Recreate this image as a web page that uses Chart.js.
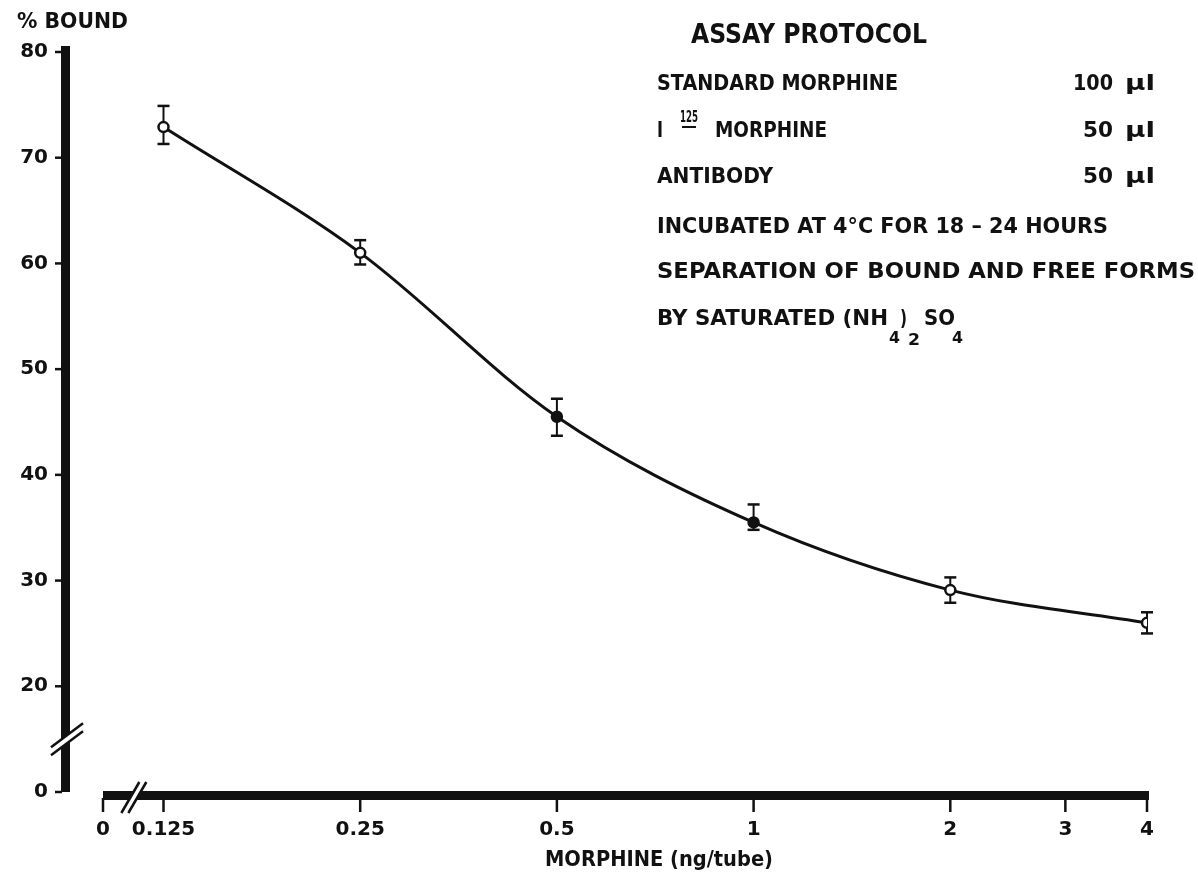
<!DOCTYPE html>
<html>
<head>
<meta charset="utf-8">
<script src="https://cdn.jsdelivr.net/npm/chart.js@4.4.0/dist/chart.umd.min.js"></script>
<style>
    html, body { margin: 0; padding: 0; background: #fff; }
</style>
</head>
<body>
<canvas id="chart" width="1198" height="874"></canvas>
<script>
// morphine standards (ng/tube) and % bound
var doses = [0.125, 0.25, 0.5, 1, 2, 4];
var bound = [72.9, 61.0, 45.5, 35.5, 29.1, 26.0];
var errHigh = [74.9, 62.2, 47.2, 37.2, 30.3, 27.0];
var errLow = [71.3, 59.9, 43.7, 34.8, 27.9, 25.0];
var filled = [false, false, true, true, false, false];

// the "0" on each axis sits past a break, so it is placed at 0.101 / 10
var xTicks = [0.101, 0.125, 0.25, 0.5, 1, 2, 3, 4];
var xTickLabels = ['0', '0.125', '0.25', '0.5', '1', '2', '3', '4'];
var yTicks = [10, 20, 30, 40, 50, 60, 70, 80];
var yTickLabels = ['0', '20', '30', '40', '50', '60', '70', '80'];

var ink = '#111';
var tickFont = { family: '"DejaVu Sans"', size: 20, weight: 'bold' };

function fitText(c, text, x, y, width, size) {
    c.save();
    c.font = 'bold ' + size + 'px "DejaVu Sans"';
    var w = c.measureText(text).width;
    c.translate(x, y);
    c.scale(width / w, 1);
    c.textBaseline = 'alphabetic';
    c.textAlign = 'left';
    c.fillStyle = ink;
    c.fillText(text, 0, 0);
    c.restore();
}

// thick axis bars, tick marks and break marks
var paperAxes = {
    id: 'paperAxes',
    beforeDatasetsDraw: function(chart) {
        var c = chart.ctx, xs = chart.scales.x, ys = chart.scales.y;
        var area = chart.chartArea;
        c.save();
        c.fillStyle = ink;
        c.strokeStyle = ink;

        // y bar
        c.fillRect(61, area.top - 6, 9, area.bottom - area.top + 6);
        c.lineWidth = 2.5;
        yTicks.forEach(function(v) {
            var py = ys.getPixelForValue(v);
            c.beginPath(); c.moveTo(55, py); c.lineTo(62, py); c.stroke();
        });

        // x bar
        c.fillRect(area.left, area.bottom - 1, xs.getPixelForValue(4) - area.left + 2, 9);
        xTicks.forEach(function(v) {
            var px = xs.getPixelForValue(v);
            c.beginPath(); c.moveTo(px, area.bottom + 6); c.lineTo(px, area.bottom + 20); c.stroke();
        });

        // y break
        var cy = ys.getPixelForValue(15), cx = 67;
        c.fillStyle = '#fff';
        c.beginPath();
        c.moveTo(cx - 16, cy + 8); c.lineTo(cx + 16, cy - 16);
        c.lineTo(cx + 16, cy - 8); c.lineTo(cx - 16, cy + 16);
        c.closePath(); c.fill();
        c.lineWidth = 2.5;
        c.beginPath(); c.moveTo(cx - 16, cy + 8); c.lineTo(cx + 16, cy - 16); c.stroke();
        c.beginPath(); c.moveTo(cx - 16, cy + 16); c.lineTo(cx + 16, cy - 8); c.stroke();

        // x break
        var bx = xs.getPixelForValue(0.1124), by = area.bottom + 4;
        c.beginPath();
        c.moveTo(bx - 12, by + 17); c.lineTo(bx + 6, by - 14);
        c.lineTo(bx + 13, by - 14); c.lineTo(bx - 5, by + 17);
        c.closePath(); c.fill();
        c.beginPath(); c.moveTo(bx - 12, by + 17); c.lineTo(bx + 6, by - 14); c.stroke();
        c.beginPath(); c.moveTo(bx - 5, by + 17); c.lineTo(bx + 13, by - 14); c.stroke();

        // error bars (under the markers)
        c.strokeStyle = ink;
        doses.forEach(function(d, i) {
            var px = xs.getPixelForValue(d);
            var top = ys.getPixelForValue(errHigh[i]);
            var bot = ys.getPixelForValue(errLow[i]);
            c.lineWidth = 2;
            c.beginPath(); c.moveTo(px, top); c.lineTo(px, bot); c.stroke();
            c.lineWidth = 2.5;
            c.beginPath(); c.moveTo(px - 6, top); c.lineTo(px + 6, top); c.stroke();
            c.beginPath(); c.moveTo(px - 6, bot); c.lineTo(px + 6, bot); c.stroke();
        });
        c.restore();
    },
    afterDraw: function(chart) {
        var c = chart.ctx;
        // axis titles
        fitText(c, '% BOUND', 17, 28, 111, 22);
        fitText(c, 'MORPHINE (ng/tube)', 545, 866, 228, 22);

        // assay protocol box
        fitText(c, 'ASSAY PROTOCOL', 691, 43, 236, 27);
        fitText(c, 'STANDARD MORPHINE', 657, 90, 241, 22);
        fitText(c, '100', 1073, 90, 40, 22);
        fitText(c, 'μl', 1125, 90, 30, 21);
        fitText(c, 'I', 657, 137, 6, 22);
        fitText(c, '125', 680, 122, 18, 16);
        c.save(); c.fillStyle = ink; c.fillRect(682, 126, 14, 2); c.restore();
        fitText(c, 'MORPHINE', 715, 137, 112, 22);
        fitText(c, '50', 1083, 137, 30, 22);
        fitText(c, 'μl', 1125, 137, 30, 21);
        fitText(c, 'ANTIBODY', 657, 183, 116, 22);
        fitText(c, '50', 1083, 183, 30, 22);
        fitText(c, 'μl', 1125, 183, 30, 21);
        fitText(c, 'INCUBATED AT 4°C FOR 18 – 24 HOURS', 657, 233, 451, 22);
        fitText(c, 'SEPARATION OF BOUND AND FREE FORMS', 657, 278, 538, 22);
        fitText(c, 'BY SATURATED (NH', 657, 325, 231, 22);
        fitText(c, '4', 889, 343, 11, 16);
        fitText(c, ')', 900, 325, 7, 22);
        fitText(c, '2', 908, 345, 12, 16);
        fitText(c, 'SO', 924, 325, 31, 22);
        fitText(c, '4', 952, 343, 11, 16);
    }
};

var ctx = document.getElementById('chart').getContext('2d');
var myChart = new Chart(ctx, {
    type: 'line',
    data: {
        datasets: [{
            data: doses.map(function(d, i) {
                return { x: d, y: bound[i] };
            }),
            borderColor: ink,
            borderWidth: 3,
            cubicInterpolationMode: 'monotone',
            fill: false,
            pointRadius: 5,
            pointBorderWidth: 2.5,
            pointBorderColor: ink,
            pointBackgroundColor: filled.map(function(f) {
                return f ? ink : '#fff';
            })
        }]
    },
    options: {
        responsive: false,
        animation: false,
        layout: {
            padding: { left: 0, top: 52, right: 51, bottom: 0 }
        },
        plugins: {
            legend: { display: false },
            tooltip: { enabled: false }
        },
        scales: {
            x: {
                type: 'logarithmic',
                min: 0.101,
                max: 4,
                grid: { display: false, drawTicks: false },
                border: { display: false },
                afterBuildTicks: function(scale) {
                    scale.ticks = xTicks.map(function(v) { return { value: v }; });
                },
                afterFit: function(scale) {
                    scale.height = 82;
                },
                ticks: {
                    autoSkip: false,
                    maxRotation: 0,
                    padding: 26,
                    color: ink,
                    font: tickFont,
                    callback: function(value, index) {
                        return xTickLabels[index];
                    }
                }
            },
            y: {
                type: 'linear',
                min: 10,
                max: 80,
                grid: { display: false, drawTicks: false },
                border: { display: false },
                afterBuildTicks: function(scale) {
                    scale.ticks = yTicks.map(function(v) { return { value: v }; });
                },
                afterFit: function(scale) {
                    scale.width = 103;
                    // the big label padding should not push the plot down
                    scale.paddingTop = 12;
                    scale.paddingBottom = 12;
                },
                ticks: {
                    padding: 55,
                    color: ink,
                    font: tickFont,
                    callback: function(value, index) {
                        return yTickLabels[index];
                    }
                }
            }
        }
    },
    plugins: [paperAxes]
});
</script>
</body>
</html>
